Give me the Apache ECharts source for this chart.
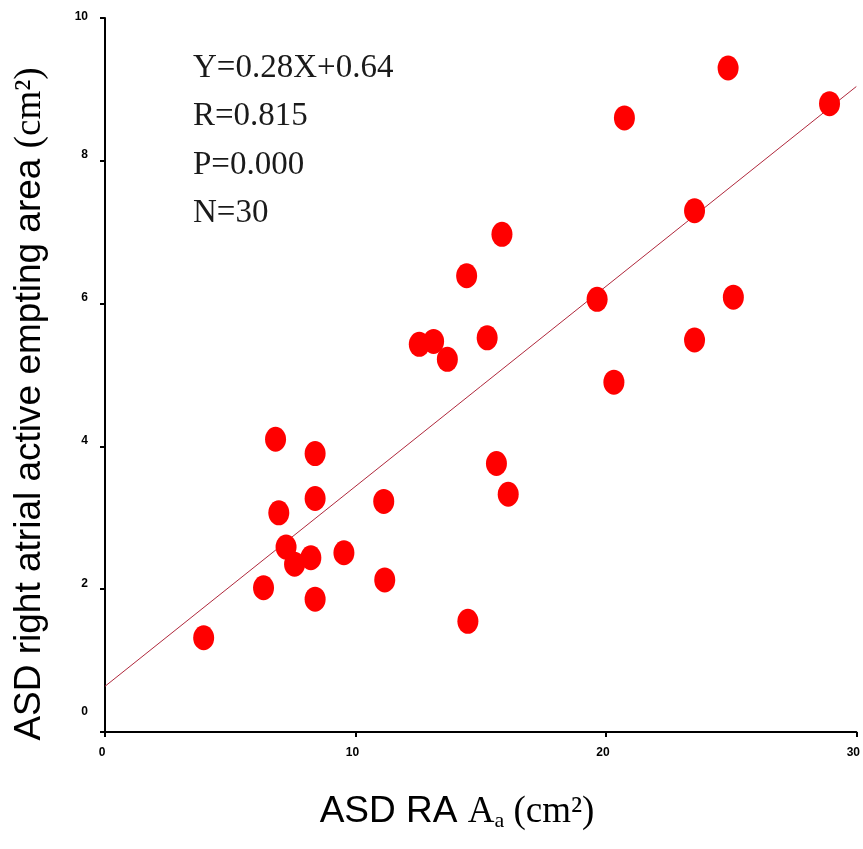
<!DOCTYPE html>
<html>
<head>
<meta charset="utf-8">
<script src="https://cdn.jsdelivr.net/npm/echarts@6/dist/echarts.min.js"></script>
<style>
  html, body { margin: 0; padding: 0; background: #ffffff; }
  #chart { width: 863px; height: 849px; }
</style>
</head>
<body>
<div id="chart"></div>
<script>
// Right atrial Aa vs. active emptying area, 30 ASD cases
const raArea = [3.94, 6.33, 6.81, 6.94, 7.23, 7.57, 8.22, 8.39, 8.39, 8.39,
                9.54, 11.13, 11.17, 12.55, 13.12, 13.67, 14.44, 14.49, 15.26, 15.63,
                15.85, 16.10, 19.65, 20.32, 20.74, 23.54, 23.54, 24.88, 25.09, 28.93];
const emptyingArea = [1.32, 2.02, 4.10, 3.07, 2.59, 2.35, 2.44, 3.90, 3.27, 1.86,
                      2.51, 3.23, 2.13, 5.43, 5.47, 5.22, 6.39, 1.55, 5.52, 3.76,
                      6.97, 3.33, 6.06, 4.90, 8.60, 7.30, 5.49, 9.30, 6.09, 8.80];

// Regression fit as reported
const fitSlope = 0.28;
const fitIntercept = 0.64;
const fitXRange = [0, 30];
const statLines = ['Y=0.28X+0.64', 'R=0.815', 'P=0.000', 'N=30'];

const xTicks = { min: 0, max: 30, interval: 10 };
const yTicks = { min: 0, max: 10, interval: 2 };

const points = raArea.map((x, i) => [x, emptyingArea[i]]);
const fitLine = fitXRange.map(x => [x, fitSlope * x + fitIntercept]);

const chart = echarts.init(document.getElementById('chart'), null, { renderer: 'canvas' });

const axisCommon = {
  axisLine: { show: true, lineStyle: { color: '#000', width: 2 } },
  axisTick: { show: true, inside: false, length: 5, lineStyle: { color: '#000', width: 2 } },
  splitLine: { show: false }
};

const tickFont = { color: '#000', fontFamily: 'Liberation Sans', fontWeight: 'bold', fontSize: 12 };

chart.setOption({
  backgroundColor: '#ffffff',
  animation: false,
  grid: { left: 105, right: 1, top: 18, bottom: 117, containLabel: false },
  xAxis: Object.assign({
    type: 'value',
    min: xTicks.min, max: xTicks.max, interval: xTicks.interval,
    axisLabel: Object.assign({ margin: 15, padding: [0, 6, 0, 0] }, tickFont)
  }, axisCommon),
  yAxis: Object.assign({
    type: 'value',
    min: yTicks.min, max: yTicks.max, interval: yTicks.interval,
    axisLabel: {
      margin: 17,
      formatter: v => (v === 0 ? '{z|0}' : v === 10 ? '{t|10}' : '{n|' + v + '}'),
      rich: {
        n: Object.assign({ padding: [0, 0, 12, 0] }, tickFont),
        t: Object.assign({ padding: [0, 0, 2, 0] }, tickFont),
        z: Object.assign({ padding: [0, 0, 40, 0] }, tickFont)
      }
    }
  }, axisCommon),
  series: [
    {
      type: 'line',
      data: fitLine,
      symbol: 'none',
      lineStyle: { color: '#b0283c', width: 1 },
      z: 2,
      silent: true
    },
    {
      type: 'scatter',
      data: points,
      symbol: 'circle',
      symbolSize: [21, 25],
      itemStyle: { color: '#ff0000', opacity: 1 },
      z: 3
    }
  ],
  graphic: [
    {
      type: 'text',
      left: 193,
      top: 44,
      style: {
        text: statLines.join('\n'),
        fontFamily: 'Liberation Serif',
        fontSize: 33,
        lineHeight: 48.5,
        fill: '#1a1a1a'
      }
    },
    {
      type: 'text',
      x: 30,
      y: 404,
      rotation: Math.PI / 2,
      style: {
        text: '{s|ASD right atrial active empting area }{t|(cm²)}',
        align: 'center',
        verticalAlign: 'middle',
        textAlign: 'center',
        textVerticalAlign: 'middle',
        rich: {
          s: { fontFamily: 'Liberation Sans', fontSize: 37, fill: '#000', color: '#000' },
          t: { fontFamily: 'Liberation Serif', fontSize: 37, fill: '#000', color: '#000' }
        }
      }
    },
    {
      type: 'text',
      x: 457,
      y: 812,
      style: {
        text: '{s|ASD RA }{t|A}{sub|a}{t| (cm²)}',
        align: 'center',
        verticalAlign: 'middle',
        textAlign: 'center',
        textVerticalAlign: 'middle',
        rich: {
          s: { fontFamily: 'Liberation Sans', fontSize: 37, fill: '#000', color: '#000' },
          t: { fontFamily: 'Liberation Serif', fontSize: 37, fill: '#000', color: '#000' },
          sub: { fontFamily: 'Liberation Serif', fontSize: 22, fill: '#000', color: '#000', padding: [18, 0, 0, 0] }
        }
      }
    }
  ]
});
</script>
</body>
</html>
